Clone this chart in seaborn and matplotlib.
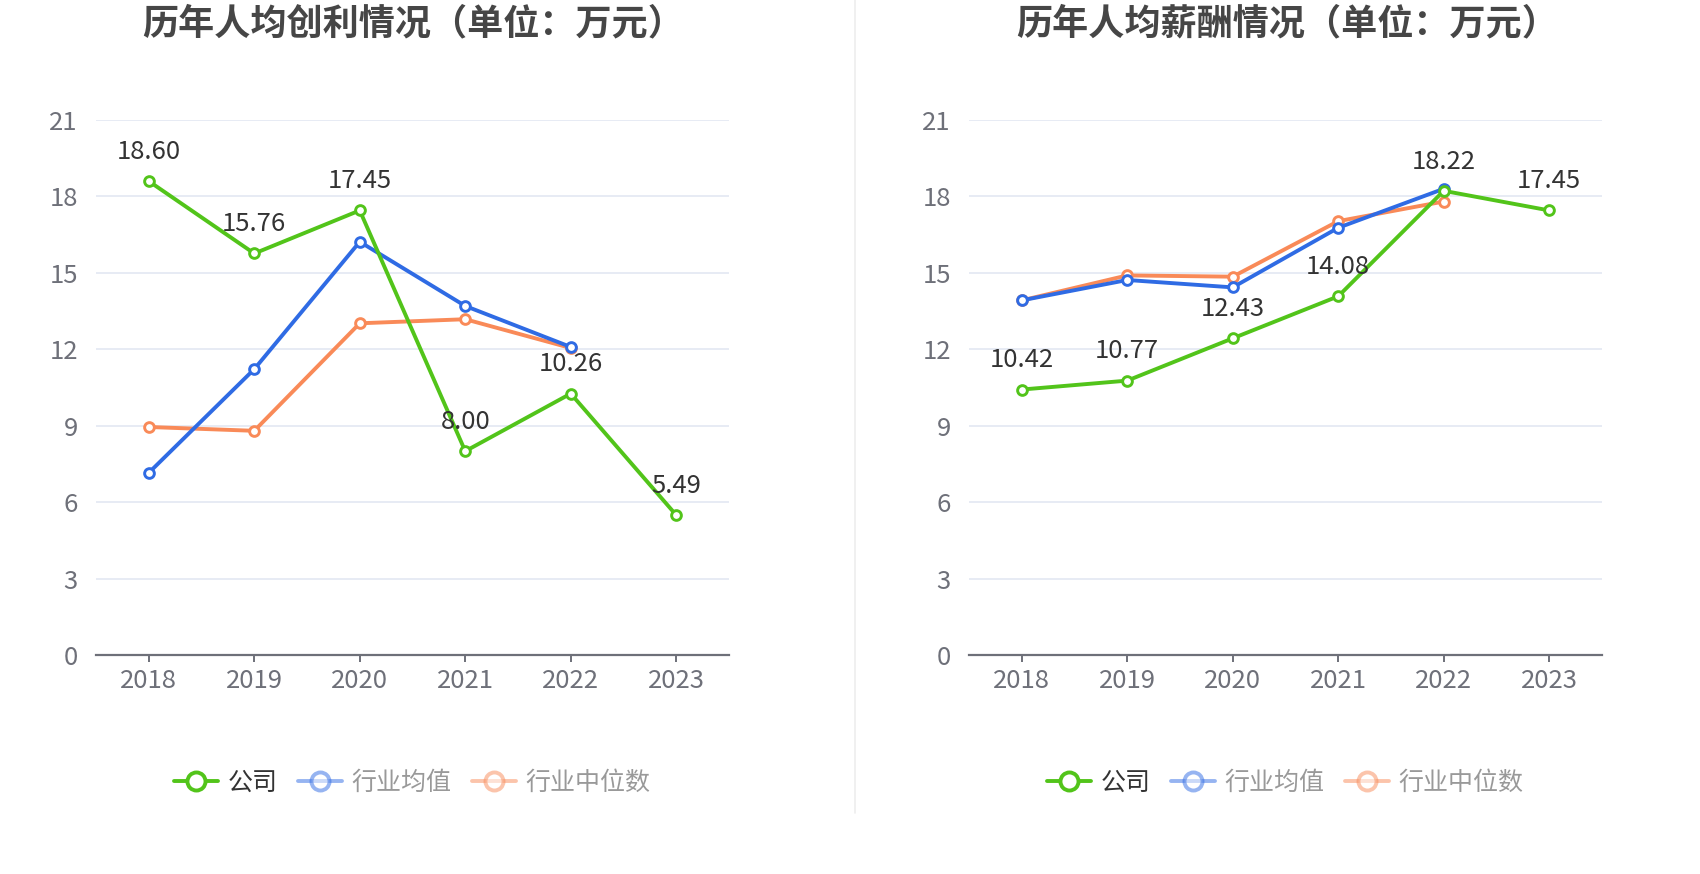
import matplotlib
matplotlib.use("Agg")
import matplotlib.pyplot as plt
import seaborn as sns
import pandas as pd
from matplotlib.lines import Line2D

years = ["2018", "2019", "2020", "2021", "2022", "2023"]

profit_company = [18.60, 15.76, 17.45, 8.00, 10.26, 5.49]
profit_mean = [7.15, 11.22, 16.22, 13.70, 12.09]
profit_median = [8.95, 8.80, 13.02, 13.18, 12.05]

salary_company = [10.42, 10.77, 12.43, 14.08, 18.22, 17.45]
salary_mean = [13.92, 14.72, 14.43, 16.77, 18.30]
salary_median = [13.92, 14.90, 14.85, 17.03, 17.80]

series_names = ["公司", "行业均值", "行业中位数"]
colors = ["#52c41a", "#2f6be4", "#f98a58"]
titles = ["历年人均创利情况（单位：万元）", "历年人均薪酬情况（单位：万元）"]
y_ticks = [0, 3, 6, 9, 12, 15, 18, 21]

sns.set_theme(style="white")
plt.rcParams["font.family"] = ["Noto Sans CJK SC", "DejaVu Sans"]

fig = plt.figure(figsize=(17, 8.74), dpi=100)
axes_pos = [[96 / 1700, 1 - 655 / 874, 633 / 1700, 535 / 874],
            [969 / 1700, 1 - 655 / 874, 633 / 1700, 535 / 874]]
title_x = [413 / 1700, 1287 / 1700]

datasets = [
    [profit_company, profit_mean, profit_median],
    [salary_company, salary_mean, salary_median],
]

for i, data in enumerate(datasets):
    ax = fig.add_axes(axes_pos[i])
    order = [2, 1, 0]
    for k in order:
        vals = data[k]
        df = pd.DataFrame({"year": years[:len(vals)], "value": vals})
        sns.lineplot(data=df, x="year", y="value", ax=ax, color=colors[k],
                     linewidth=2.8, marker="o", markersize=7,
                     markerfacecolor="white", markeredgecolor=colors[k],
                     markeredgewidth=2.1, zorder=3 + (2 - k), sort=False)
    for j, v in enumerate(data[0]):
        ax.annotate(f"{v:.2f}", (j, v), xytext=(0, 21), textcoords="offset points",
                    ha="center", va="center", fontsize=18.5, color="#333333",
                    zorder=10)
    ax.set_xlim(-0.5, 5.5)
    ax.set_ylim(0, 21)
    ax.set_yticks(y_ticks)
    ax.set_yticklabels([str(t) for t in y_ticks])
    ax.set_xlabel("")
    ax.set_ylabel("")
    ax.grid(False)
    for t in y_ticks[1:]:
        ax.axhline(t, color="#e0e6f1", linewidth=1.1, zorder=1)
    for s in ["left", "right", "top"]:
        ax.spines[s].set_visible(False)
    ax.spines["bottom"].set_color("#6e7079")
    ax.spines["bottom"].set_linewidth(1.6)
    ax.tick_params(axis="x", colors="#6e7079", labelsize=18.5, length=5, width=1.4,
                   direction="out", pad=4, bottom=True)
    ax.tick_params(axis="y", colors="#6e7079", labelsize=18.5, length=0, pad=13, left=False)
    for lab in ax.get_xticklabels() + ax.get_yticklabels():
        lab.set_color("#6e7079")

    fig.text(title_x[i], 1 - 24 / 874, titles[i], ha="center", va="center",
             fontsize=26, fontweight="bold", color="#464646")

    handles = []
    for k in range(3):
        alpha = 1.0 if k == 0 else 0.5
        handles.append(Line2D([0], [0], color=colors[k], linewidth=2.8, marker="o",
                              markersize=13, markerfacecolor="white",
                              markeredgecolor=colors[k], markeredgewidth=2.8,
                              alpha=alpha))
    leg = ax.legend(handles, series_names, loc="center", bbox_to_anchor=(0.5, -0.239),
                    ncol=3, frameon=False, fontsize=18, handlelength=1.75,
                    handletextpad=0.4, columnspacing=0.8)
    for k, txt in enumerate(leg.get_texts()):
        txt.set_color("#333333" if k == 0 else "#999999")

fig.add_artist(Line2D([855 / 1700, 855 / 1700], [1.0, 1 - 813 / 874],
                      transform=fig.transFigure, color="#eeeeee", linewidth=1.2))

fig.savefig("out.png", dpi=100, facecolor="white")
